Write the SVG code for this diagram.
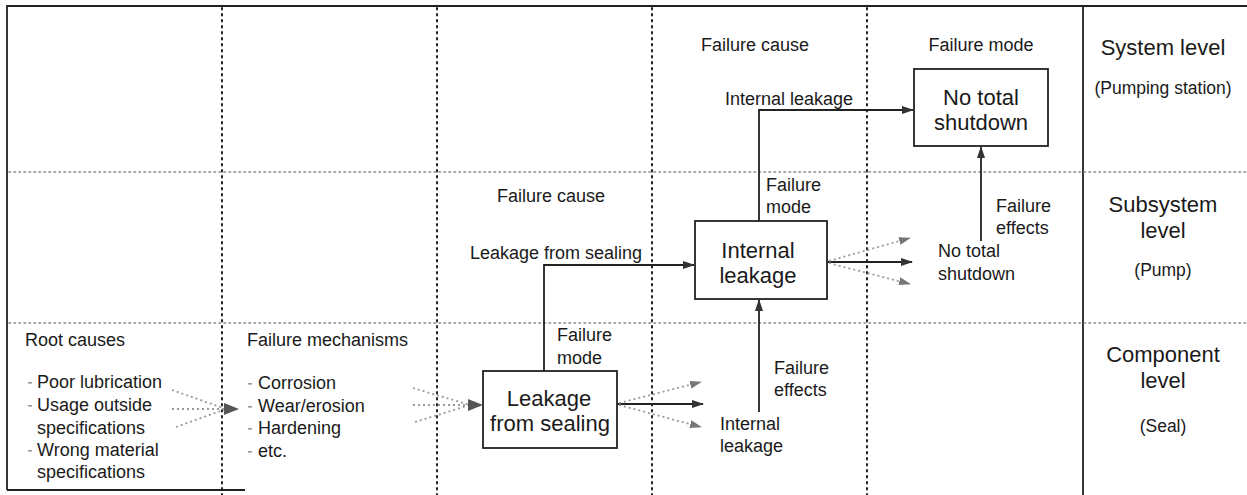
<svg xmlns="http://www.w3.org/2000/svg" width="1247" height="495" viewBox="0 0 1247 495">
<style>
text{font-family:"Liberation Sans",Arial,sans-serif;fill:#1a1a1a}
.t{font-size:18px}
.b{font-size:22px}
.h{font-size:22px}
.s{font-size:17.5px}
.box{fill:#fff;stroke:#222;stroke-width:1.8}
.vd{stroke:#222;stroke-width:2;stroke-dasharray:1.5 4.5;stroke-linecap:round;fill:none}
.hd{stroke:#888;stroke-width:1.6;stroke-dasharray:1.5 3.5;stroke-linecap:round;fill:none}
.sol{stroke:#222;stroke-width:1.8;fill:none}
.dot{stroke:#999;stroke-width:1.8;stroke-dasharray:2 3;fill:none}
.bul{fill:#999}
</style>
<defs>
<marker id="ah" markerWidth="12" markerHeight="8" refX="11" refY="4" orient="auto" markerUnits="userSpaceOnUse">
<path d="M0,0 L12,4 L0,8 Z" fill="#333"/>
</marker>
<marker id="agl" markerWidth="12" markerHeight="8" refX="11" refY="4" orient="auto" markerUnits="userSpaceOnUse">
<path d="M0,0 L12,4 L0,8 Z" fill="#777"/>
</marker>
</defs>

<g id="grid">
<path class="sol" d="M7,490 V6 H1247"/>
<path class="sol" d="M7,490 H245" stroke="#666"/>
<path class="sol" d="M1083,6 V495"/>
<path class="vd" d="M222,8 V495"/>
<path class="vd" d="M437,8 V495"/>
<path class="vd" d="M652,8 V495"/>
<path class="vd" d="M867,8 V495"/>
<path class="hd" d="M9,172 H1247"/>
<path class="hd" d="M9,323 H1247"/>
</g>

<g id="col-root">
<text class="t" x="25" y="346">Root causes</text>
<text class="t" x="37" y="388">Poor lubrication</text>
<text class="t" x="37" y="411">Usage outside</text>
<text class="t" x="37" y="434">specifications</text>
<text class="t" x="37" y="456">Wrong material</text>
<text class="t" x="37" y="478">specifications</text>
<rect class="bul" x="28" y="382" width="4" height="1.6"/>
<rect class="bul" x="28" y="405" width="4" height="1.6"/>
<rect class="bul" x="28" y="450" width="4" height="1.6"/>
</g>

<g id="col-mech">
<text class="t" x="247" y="346">Failure mechanisms</text>
<text class="t" x="258" y="389">Corrosion</text>
<text class="t" x="258" y="412">Wear/erosion</text>
<text class="t" x="258" y="434">Hardening</text>
<text class="t" x="258" y="457">etc.</text>
<rect class="bul" x="248" y="383" width="4" height="1.6"/>
<rect class="bul" x="248" y="406" width="4" height="1.6"/>
<rect class="bul" x="248" y="428" width="4" height="1.6"/>
<rect class="bul" x="248" y="451" width="4" height="1.6"/>
</g>

<g id="node-seal">
<rect class="box" x="483" y="371" width="134" height="77"/>
<text class="b" x="549" y="406" text-anchor="middle">Leakage</text>
<text class="b" x="550" y="431" text-anchor="middle">from sealing</text>
</g>

<g id="node-pump">
<rect class="box" x="695" y="221" width="132" height="78"/>
<text class="b" x="758" y="258" text-anchor="middle">Internal</text>
<text class="b" x="758" y="283" text-anchor="middle">leakage</text>
</g>

<g id="node-station">
<rect class="box" x="914" y="69" width="134" height="77"/>
<text class="b" x="981" y="105" text-anchor="middle">No total</text>
<text class="b" x="981" y="130" text-anchor="middle">shutdown</text>
</g>

<g id="labels">
<text class="t" x="551" y="202" text-anchor="middle">Failure cause</text>
<text class="t" x="470" y="259">Leakage from sealing</text>
<text class="t" x="557" y="341">Failure</text>
<text class="t" x="557" y="364">mode</text>
<text class="t" x="774" y="374">Failure</text>
<text class="t" x="774" y="396">effects</text>
<text class="t" x="720" y="430">Internal</text>
<text class="t" x="720" y="452">leakage</text>
<text class="t" x="755" y="51" text-anchor="middle">Failure cause</text>
<text class="t" x="981" y="51" text-anchor="middle">Failure mode</text>
<text class="t" x="725" y="105">Internal leakage</text>
<text class="t" x="766" y="191">Failure</text>
<text class="t" x="766" y="213">mode</text>
<text class="t" x="996" y="212">Failure</text>
<text class="t" x="996" y="234">effects</text>
<text class="t" x="938" y="257">No total</text>
<text class="t" x="938" y="280">shutdown</text>
</g>

<g id="levels">
<text class="h" x="1163" y="55" text-anchor="middle">System level</text>
<text class="s" x="1163" y="94" text-anchor="middle">(Pumping station)</text>
<text class="h" x="1163" y="212" text-anchor="middle">Subsystem</text>
<text class="h" x="1163" y="238" text-anchor="middle">level</text>
<text class="s" x="1163" y="276" text-anchor="middle">(Pump)</text>
<text class="h" x="1163" y="362" text-anchor="middle">Component</text>
<text class="h" x="1163" y="388" text-anchor="middle">level</text>
<text class="s" x="1163" y="432" text-anchor="middle">(Seal)</text>
</g>

<g id="connectors">
<path class="dot" d="M172,390 L226,409"/>
<path class="dot" d="M172,409 L226,409"/>
<path class="dot" d="M176,427 L226,409"/>
<path d="M224,403 L239,409 L224,415 Z" fill="#555"/>
<path class="dot" d="M413,388 L470,405"/>
<path class="dot" d="M413,405 L470,405"/>
<path class="dot" d="M415,422 L470,405"/>
<path d="M468,399 L483,405 L468,411 Z" fill="#555"/>
<path class="sol" d="M617,404 H703" marker-end="url(#ah)"/>
<path class="dot" d="M619,403 L701,382" marker-end="url(#agl)"/>
<path class="dot" d="M619,405 L701,427" marker-end="url(#agl)"/>
<path class="sol" d="M544,371 V265 H694" marker-end="url(#ah)"/>
<path class="sol" d="M759,412 V300" marker-end="url(#ah)"/>
<path class="sol" d="M827,262 H912" marker-end="url(#ah)"/>
<path class="dot" d="M829,261 L910,238" marker-end="url(#agl)"/>
<path class="dot" d="M829,263 L910,284" marker-end="url(#agl)"/>
<path class="sol" d="M759,221 V110 H913" marker-end="url(#ah)"/>
<path class="sol" d="M981,241 V147" marker-end="url(#ah)"/>
</g>
</svg>
